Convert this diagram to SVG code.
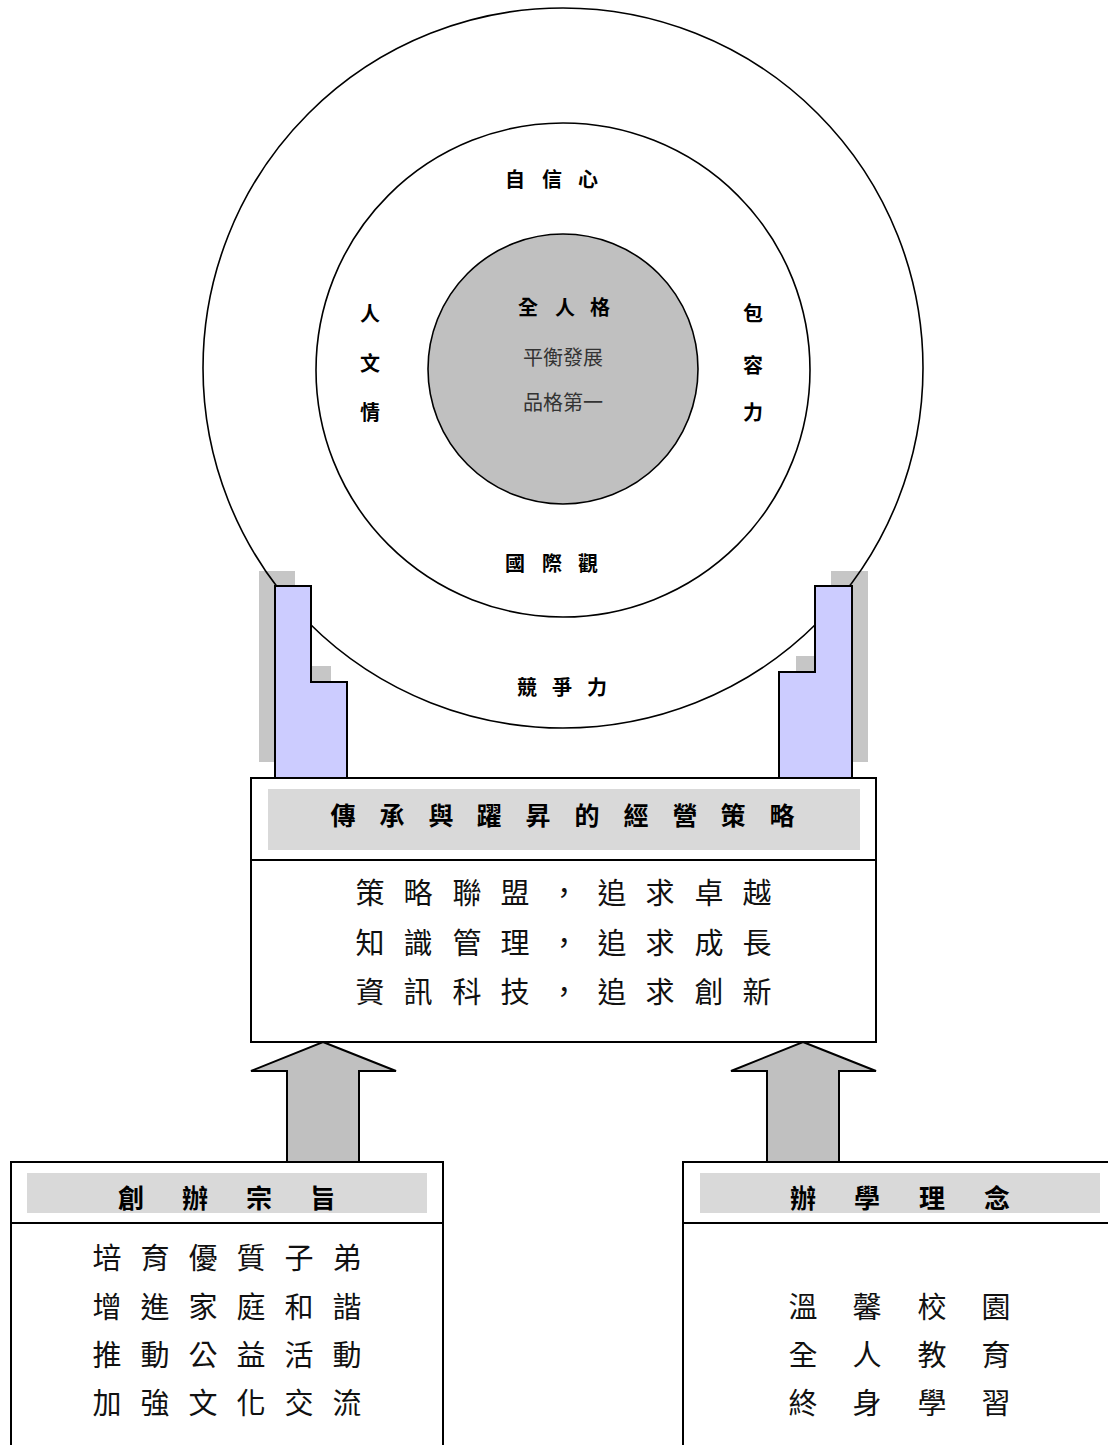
<svg xmlns="http://www.w3.org/2000/svg" width="1108" height="1445" viewBox="0 0 1108 1445">
<style>
.ring{fill:none;stroke:#000;stroke-width:1.6}
.core{fill:#c0c0c0;stroke:#000;stroke-width:1.6}
.shadow{fill:#c6c6c6;stroke:none}
.pillar{fill:#ccccff;stroke:#000;stroke-width:2}
.box{fill:#fff;stroke:#000;stroke-width:2}
.band{fill:#d9d9d9;stroke:none}
.div{stroke:#000;stroke-width:2}
.arrow{fill:#c0c0c0;stroke:#000;stroke-width:2;stroke-linejoin:miter}
.lbl{font-family:"Noto Sans CJK TC","Noto Sans CJK SC",sans-serif;font-weight:bold;font-size:20px;fill:#000;text-anchor:middle}
.sub{font-family:"Noto Sans CJK TC","Noto Sans CJK SC",sans-serif;font-size:20px;fill:#333;text-anchor:middle}
.head{font-family:"Noto Sans CJK TC","Noto Sans CJK SC",sans-serif;font-weight:bold;fill:#000;text-anchor:middle}
.body{font-family:"Noto Sans CJK TC","Noto Sans CJK SC",sans-serif;font-size:29px;fill:#111;text-anchor:middle}
</style>
<g id="pillar-shadows">
<path class="shadow" d="M259,571 H295 V666 H331 V762 H259 Z"/>
<path class="shadow" d="M831,571 H868 V762 H796 V656 H831 Z"/>
</g>
<g id="circles">
<circle class="ring" cx="563" cy="368" r="360"/>
<circle class="ring" cx="563" cy="370" r="247"/>
<circle class="core" cx="563" cy="369" r="135"/>
<text class="lbl" x="515 552 588" y="187">自信心</text>
<text class="lbl" x="528 565 600" y="315">全人格</text>
<text class="sub" x="563" y="365">平衡發展</text>
<text class="sub" x="563" y="410">品格第一</text>
<text class="lbl" x="370" y="321">人</text>
<text class="lbl" x="370" y="371">文</text>
<text class="lbl" x="370" y="420">情</text>
<text class="lbl" x="753" y="321">包</text>
<text class="lbl" x="753" y="373">容</text>
<text class="lbl" x="753" y="420">力</text>
<text class="lbl" x="515 552 588" y="571">國際觀</text>
<text class="lbl" x="527 562 597" y="695">競爭力</text>
</g>
<g id="pillars">
<path class="pillar" d="M275,586 H311 V682 H347 V778 H275 Z"/>
<path class="pillar" d="M815,586 H852 V778 H779 V672 H815 Z"/>
</g>
<g id="strategy">
<rect class="box" x="251" y="778" width="625" height="264"/>
<rect class="band" x="268" y="789" width="592" height="61"/>
<line class="div" x1="251" y1="860" x2="876" y2="860"/>
<text class="head" font-size="25" x="343 392 441 489 538 587 636 685 733 782" y="825">傳承與躍昇的經營策略</text>
<text class="body" x="370 418 467 515 564 612 660 709 757" y="904">策略聯盟，追求卓越</text>
<text class="body" x="370 418 467 515 564 612 660 709 757" y="954">知識管理，追求成長</text>
<text class="body" x="370 418 467 515 564 612 660 709 757" y="1003">資訊科技，追求創新</text>
</g>
<g id="founding">
<rect class="box" x="11" y="1162" width="432" height="300"/>
<rect class="band" x="27" y="1173" width="400" height="40"/>
<line class="div" x1="11" y1="1223" x2="443" y2="1223"/>
<text class="head" font-size="26" x="131 195 259 323" y="1208">創辦宗旨</text>
<text class="body" x="107 155 203 251 299 347" y="1269">培育優質子弟</text>
<text class="body" x="107 155 203 251 299 347" y="1318">增進家庭和諧</text>
<text class="body" x="107 155 203 251 299 347" y="1366">推動公益活動</text>
<text class="body" x="107 155 203 251 299 347" y="1414">加強文化交流</text>
</g>
<g id="philosophy">
<rect class="box" x="683" y="1162" width="433" height="300"/>
<rect class="band" x="700" y="1173" width="400" height="40"/>
<line class="div" x1="683" y1="1223" x2="1116" y2="1223"/>
<text class="head" font-size="26" x="803 867 932 997" y="1208">辦學理念</text>
<text class="body" x="803 867 932 996" y="1318">溫馨校園</text>
<text class="body" x="803 867 932 996" y="1366">全人教育</text>
<text class="body" x="803 867 932 996" y="1414">終身學習</text>
</g>
<g id="connectors">
<polygon class="arrow" points="323,1042 396,1071 359,1071 359,1162 287,1162 287,1071 251,1071"/>
<polygon class="arrow" points="803,1042 876,1071 839,1071 839,1162 767,1162 767,1071 731,1071"/>
</g>
</svg>
